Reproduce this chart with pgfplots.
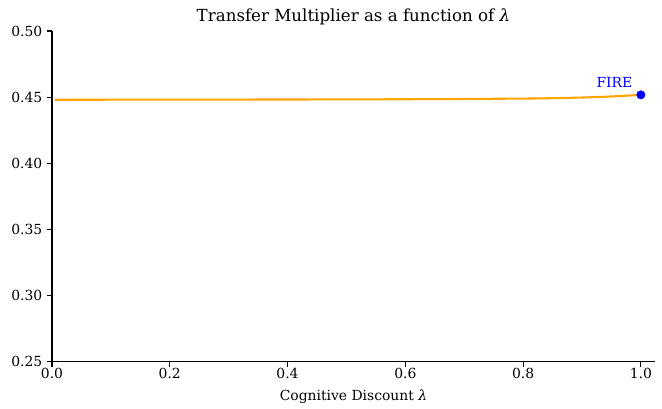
\documentclass[border=0pt]{standalone}
\usepackage{fontspec}
\setmainfont{DejaVu Serif}
\usepackage{pgfplots}
\pgfplotsset{compat=1.18}
\definecolor{curve}{HTML}{FFA500}
\begin{document}
\begin{tikzpicture}
\begin{axis}[
  scale only axis,
  width=434pt, height=238pt,
  xmin=0, xmax=1.024,
  ymin=0.25, ymax=0.50,
  axis x line*=bottom, axis y line*=left,
  axis line style={line width=0.8pt},
  xtick={0,0.2,0.4,0.6,0.8,1.0},
  ytick={0.25,0.30,0.35,0.40,0.45,0.50},
  tick align=outside,
  major tick length=3.5pt,
  tick style={line width=0.8pt, black},
  /pgf/number format/assume math mode=true,
  ticklabel style={font=\fontsize{10}{12}\selectfont},
  xticklabel style={yshift=2pt, /pgf/number format/.cd, fixed, fixed zerofill, precision=1},
  yticklabel style={/pgf/number format/.cd, fixed, fixed zerofill, precision=2},
  xlabel={Cognitive Discount \textit{λ}},
  xlabel style={font=\fontsize{10}{12}\selectfont, yshift=-1pt},
  title={Transfer Multiplier as a function of \textit{λ}},
  title style={font=\fontsize{12}{14}\selectfont, yshift=-5pt},
  clip=false,
]
% transfer multiplier against the cognitive discount
\addplot[curve, line width=1.5pt, smooth] coordinates {
  (0.005,0.4480) (0.10,0.44805) (0.20,0.4481) (0.30,0.44815) (0.40,0.4482)
  (0.50,0.4483) (0.60,0.4484) (0.70,0.4486) (0.80,0.4489) (0.85,0.4492)
  (0.90,0.4497) (0.95,0.4505) (1.00,0.4517)
};
% FIRE case, lambda = 1
\addplot[only marks, mark=*, mark size=3pt, blue] coordinates {(1.00,0.4517)}
  node[anchor=south east, text=blue, font=\fontsize{10}{12}\selectfont,
       xshift=-5pt, yshift=4pt, inner sep=1pt] {FIRE};
\path (rel axis cs:-0.0862,-0.1269) (rel axis cs:1.0116,1.0937);
\end{axis}
\end{tikzpicture}
\end{document}
